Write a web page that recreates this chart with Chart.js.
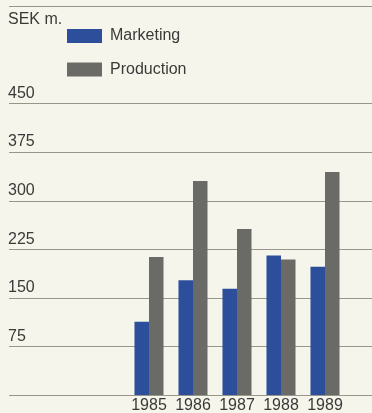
<!DOCTYPE html>
<html>
<head>
<meta charset="utf-8">
<script src="https://cdn.jsdelivr.net/npm/chart.js@4/dist/chart.umd.min.js"></script>
<style>
  html,body{margin:0;padding:0;background:#f6f5eb;}
  #wrap{position:relative;width:372px;height:413px;}
</style>
</head>
<body>
<div id="wrap"><canvas id="c"></canvas></div>
<script>
const years      = ["1985","1986","1987","1988","1989"];
const marketing  = [113, 177, 164, 215, 198];
const production = [213, 330, 256, 209, 344];
const unitLabel  = "SEK m.";

const INK = "#3a3a38";
const FONT = "'Liberation Sans', Arial, sans-serif";

// horizontal rules, drawn full width from the y scale ticks
const rules = {
  id:"rules",
  beforeDatasetsDraw(chart){
    const {ctx} = chart, y = chart.scales.y;
    ctx.save();
    ctx.strokeStyle = "#96968a";
    ctx.lineWidth = 1;
    y.ticks.forEach(t=>{
      if(t.value>450 && t.value!==600) return;
      const py = Math.round(y.getPixelForValue(t.value))+0.5;
      ctx.beginPath();
      ctx.moveTo(9, py);
      ctx.lineTo(chart.width, py);
      ctx.stroke();
    });
    ctx.restore();
  }
};

// unit caption + stacked legend in the top-left corner
const keyBox = {
  id:"keyBox",
  afterDraw(chart){
    const {ctx} = chart;
    ctx.save();
    ctx.font = "16px "+FONT;
    ctx.fillStyle = INK;
    ctx.textBaseline = "middle";
    ctx.fillText(unitLabel, 8, 20);
    chart.data.datasets.forEach((ds,i)=>{
      const top = 29 + i*33.5;
      ctx.fillStyle = ds.backgroundColor;
      ctx.fillRect(67, top, 35, 14);
      ctx.fillStyle = INK;
      ctx.fillText(ds.label, 110, top+7);
    });
    ctx.restore();
  }
};

new Chart(document.getElementById("c"), {
  type:"bar",
  data:{
    labels:years,
    datasets:[
      {label:"Marketing",  data:marketing,  backgroundColor:"#2c4e9b"},
      {label:"Production", data:production, backgroundColor:"#6a6a67"}
    ]
  },
  options:{
    responsive:true, maintainAspectRatio:false, animation:false,
    layout:{padding:{left:8, right:25, top:6, bottom:0}},
    datasets:{bar:{categoryPercentage:0.66, barPercentage:1.0}},
    plugins:{legend:{display:false}, tooltip:{enabled:false}},
    scales:{
      x:{
        grid:{display:false, drawTicks:false}, border:{display:false},
        ticks:{color:INK, font:{family:FONT, size:16}, padding:1, maxRotation:0},
        afterFit(s){ s.height = 18; }
      },
      y:{
        min:0, max:600,
        grid:{display:false, drawTicks:false}, border:{display:false},
        ticks:{
          stepSize:75, color:INK, font:{family:FONT, size:16},
          crossAlign:"far", labelOffset:-10, padding:0,
          callback:v => (v>0 && v<=450) ? String(v) : ""
        },
        afterFit(s){ s.width = 119; s.paddingTop = 0; s.paddingBottom = 0; }
      }
    }
  },
  plugins:[rules, keyBox]
});
</script>
</body>
</html>
